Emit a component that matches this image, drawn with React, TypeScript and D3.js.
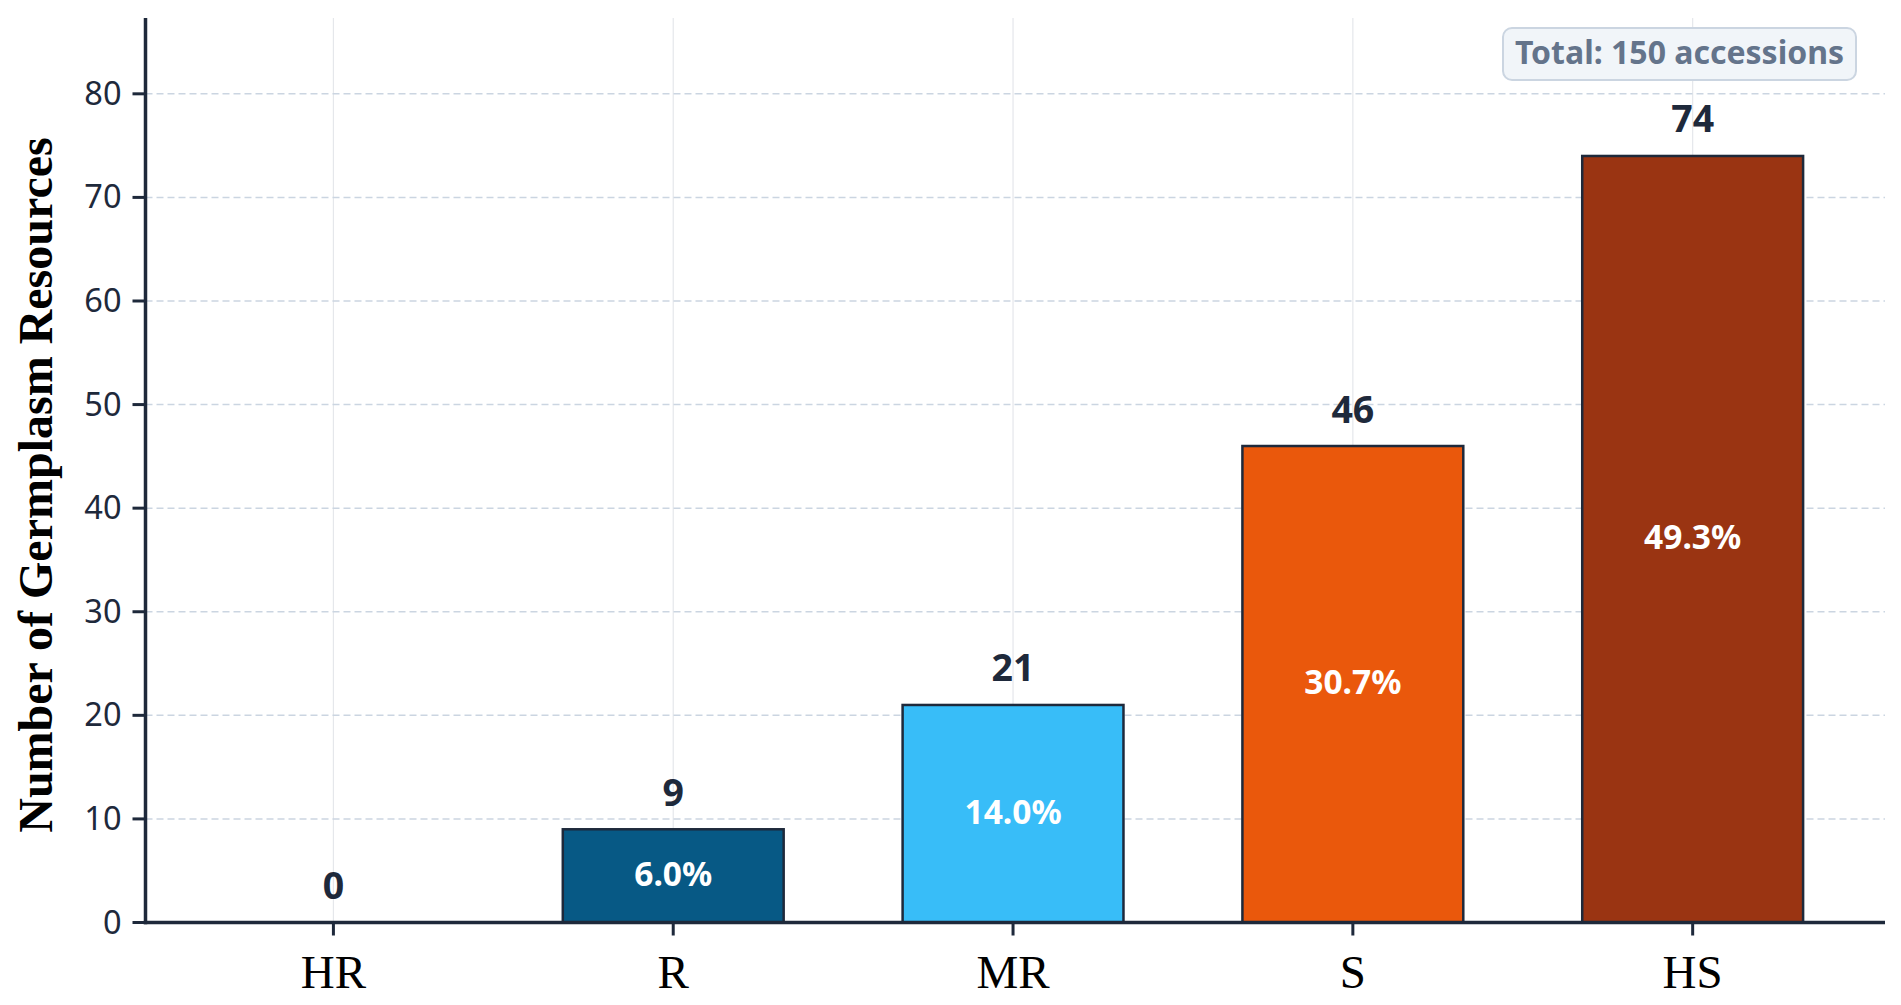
import React from 'react';
import * as d3 from 'd3';

const categories = ['HR', 'R', 'MR', 'S', 'HS'];
const counts = [0, 9, 21, 46, 74];
const barColors = ['#0c4a6e', '#075985', '#38bdf8', '#ea580c', '#9a3412'];
const yTicks = [0, 10, 20, 30, 40, 50, 60, 70, 80];
const totalLabel = 'Total: 150 accessions';
const yTitle = 'Number of Germplasm Resources';

const W = 1901;
const H = 1005;
const left = 145.5;
const right = 1885;
const top = 18;
const bottom = 922.5;

const INK = '#1e293b';
const SANS = '"Noto Sans", "Open Sans", sans-serif';
const SERIF = '"Liberation Serif", "Times New Roman", serif';

export default function App() {
  const total = d3.sum(counts);
  const x = d3.scaleLinear().domain([-0.553, 4.566]).range([left, right]);
  const y = d3.scaleLinear().domain([0, d3.max(counts)! * 1.18]).range([bottom, top]);
  const barW = x(0.65) - x(0);

  return (
    <svg width={W} height={H} viewBox={`0 0 ${W} ${H}`}
      style={{ position: 'absolute', left: 0, top: 0, display: 'block', background: '#ffffff' }}>
      <rect x={0} y={0} width={W} height={H} fill="#ffffff" />
      {/* vertical grid */}
      {categories.map((c, i) => (
        <line key={'vg' + c} x1={x(i)} x2={x(i)} y1={top} y2={bottom} stroke="#e5e7eb" strokeWidth={1.2} />
      ))}
      {/* horizontal grid */}
      {yTicks.filter(t => t > 0).map(t => (
        <line key={'hg' + t} x1={left} x2={right} y1={y(t)} y2={y(t)}
          stroke="#cbd5e1" strokeWidth={1.5} strokeDasharray="7 4" />
      ))}
      {/* bars */}
      {counts.map((v, i) => (
        <rect key={'b' + i} x={x(i) - barW / 2} y={y(v)} width={barW} height={y(0) - y(v)}
          fill={barColors[i]} stroke={INK} strokeWidth={2.5} />
      ))}
      {/* value labels */}
      {counts.map((v, i) => (
        <text key={'v' + i} x={x(i)} y={y(v) - 23.5} textAnchor="middle"
          fontFamily={SANS} fontWeight={700} fontSize={37.5} fill={INK}>{v}</text>
      ))}
      {/* percentage labels */}
      {counts.map((v, i) => v > 0 ? (
        <text key={'p' + i} x={x(i)} y={(y(v) + y(0)) / 2 + 10} textAnchor="middle"
          fontFamily={SANS} fontWeight={700} fontSize={33.5} fill="#ffffff">
          {((v / total) * 100).toFixed(1)}%
        </text>
      ) : null)}
      {/* axes */}
      <line x1={left} x2={left} y1={top} y2={bottom + 1.75} stroke={INK} strokeWidth={3.5} />
      <line x1={left - 1.75} x2={right} y1={bottom} y2={bottom} stroke={INK} strokeWidth={3.5} />
      {yTicks.map(t => (
        <g key={'yt' + t}>
          <line x1={left - 13} x2={left} y1={y(t)} y2={y(t)} stroke={INK} strokeWidth={3} />
          <text x={left - 24} y={y(t) + 11} textAnchor="end" fontFamily={SANS} fontSize={32.5} fill={INK}>{t}</text>
        </g>
      ))}
      {categories.map((c, i) => (
        <g key={'xt' + c}>
          <line x1={x(i)} x2={x(i)} y1={bottom} y2={bottom + 13} stroke={INK} strokeWidth={3} />
          <text x={x(i)} y={988} textAnchor="middle" fontFamily={SERIF} fontSize={47} fill="#000000">{c}</text>
        </g>
      ))}
      {/* y title */}
      <text transform={`translate(52, 485) rotate(-90)`} textAnchor="middle"
        fontFamily={SERIF} fontWeight={700} fontSize={48} fill="#000000">{yTitle}</text>
      {/* total box */}
      <rect x={1503} y={28} width={353} height={52} rx={9} ry={9} fill="#f1f5f9" stroke="#cbd5e1" strokeWidth={2} />
      <text x={1679.5} y={63.5} textAnchor="middle" fontFamily={SANS} fontWeight={700} fontSize={32} fill="#64748b">{totalLabel}</text>
    </svg>
  );
}
